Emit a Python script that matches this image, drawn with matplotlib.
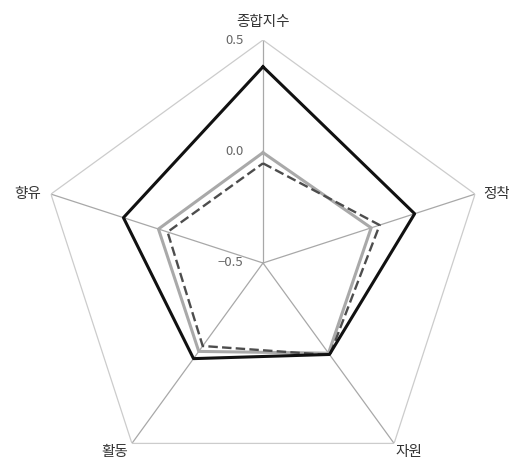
import numpy as np
import matplotlib
matplotlib.use("Agg")
import matplotlib.pyplot as plt

plt.rcParams['font.family'] = ['Noto Sans CJK KR', 'DejaVu Sans']

# axis labels (clockwise from top)
categories = ['종합지수', '정착', '자원', '활동', '향유']
tick_values = [0.5, 0.0, -0.5]
tick_labels = ['0.5', '0.0', '\u22120.5']

# series values
series_black = [0.38, 0.215, 0.007, 0.03, 0.158]
series_gray = [-0.005, 0.01, 0.0, -0.01, -0.007]
series_dash = [-0.053, 0.05, 0.01, -0.04, -0.05]

r_min, r_max = -0.5, 0.5

n = len(categories)
angles = np.linspace(0, 2 * np.pi, n, endpoint=False)
closed = np.concatenate([angles, angles[:1]])


def close(vals):
    return list(vals) + [vals[0]]


fig = plt.figure(figsize=(5.09, 4.66), dpi=100)
ax = fig.add_axes([40 / 509, -20 / 466, 446 / 509, 446 / 466], projection='polar')
ax.set_theta_offset(np.pi / 2)
ax.set_theta_direction(-1)
ax.set_ylim(r_min, r_max)
ax.grid(False)
ax.spines['polar'].set_visible(False)
ax.set_xticks([])
ax.set_yticks([])
ax.patch.set_visible(False)

# frame: spokes and outer pentagon
for a in angles:
    ax.plot([a, a], [r_min, r_max], color='#a8a8a8', lw=0.9, zorder=1)
ax.plot(closed, [r_max] * (n + 1), color='#cccccc', lw=0.9, zorder=1)

# series
ax.plot(closed, close(series_gray), color='#a9a9a9', lw=2.2, zorder=3)
ax.plot(closed, close(series_dash), color='#4d4d4d', lw=1.7,
        linestyle=(0, (4, 1.8)), zorder=4)
ax.plot(closed, close(series_black), color='#111111', lw=2.2, zorder=5)

# radial tick labels along the top axis
for v, t in zip(tick_values, tick_labels):
    ax.annotate(t, xy=(0, v), xytext=(-14, 0), textcoords='offset points',
                ha='right', va='center', fontsize=9.5, color='#666666')

# category labels
label_pos = [
    ((0, 8), 'center', 'bottom'),
    ((6, 0), 'left', 'center'),
    ((1, -1), 'left', 'top'),
    ((-3, -1), 'right', 'top'),
    ((-7, 0), 'right', 'center'),
]
for a, lab, (off, ha, va) in zip(angles, categories, label_pos):
    ax.annotate(lab, xy=(a, r_max), xytext=off, textcoords='offset points',
                ha=ha, va=va, fontsize=10.5, color='#333333')

fig.savefig('out.png', dpi=100)
